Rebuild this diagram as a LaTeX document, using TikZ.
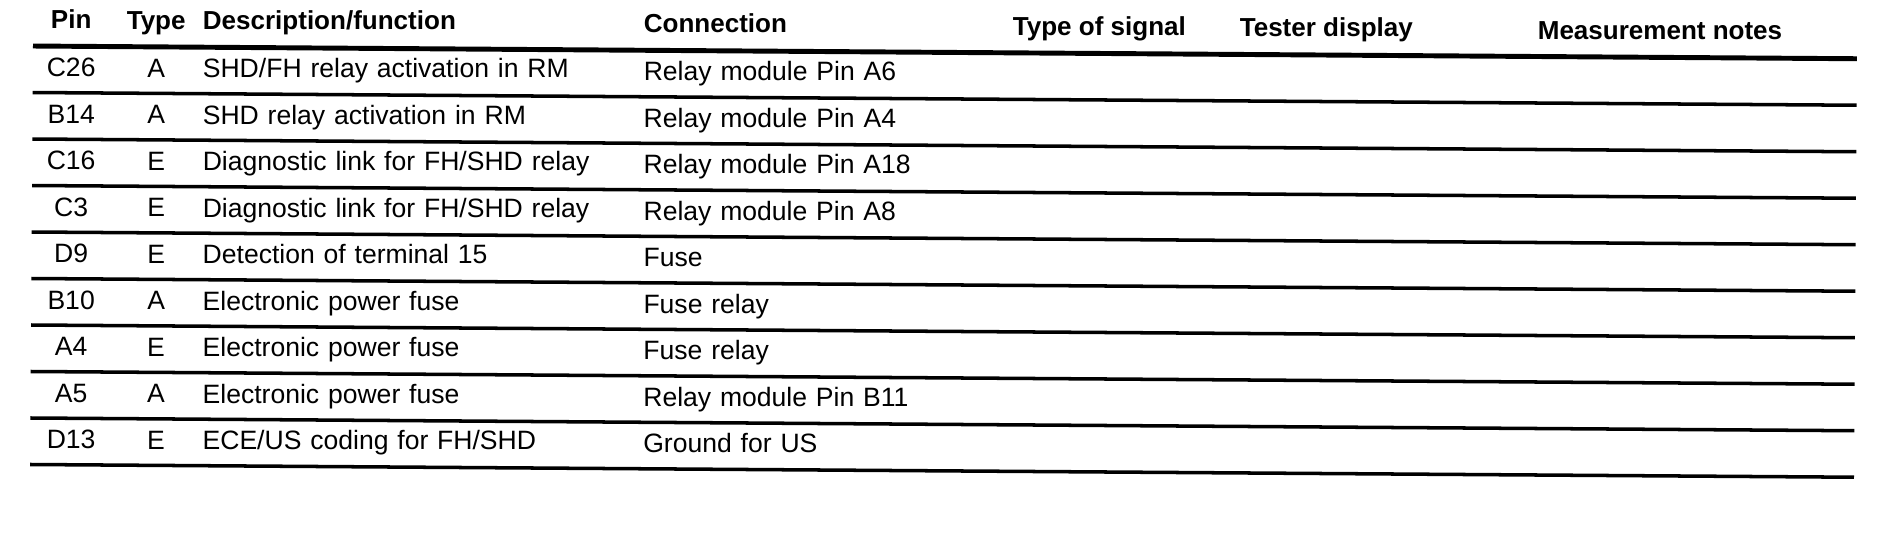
\documentclass[tikz,border=0pt]{standalone}
\usepackage{fontspec}
\setmainfont{Liberation Sans}
\usetikzlibrary{positioning}

\begin{document}
\begin{tikzpicture}[x=0.01cm, y=-0.01cm, node distance=0.465cm,
	cell/.style={inner sep=0pt, text height=5.4pt, text depth=0pt, font=\fontsize{7.55}{9}\selectfont},
	headcell/.style={cell, font=\fontsize{7.4}{9}\selectfont\bfseries},
	desccol/.style={text width=3.9cm, align=left},
	conncol/.style={text width=3.6cm, align=left},
	rule/.style={line width=1pt},
	headrule/.style={line width=1.4pt}]
			\useasboundingbox (0,0) rectangle (1882,544);
			
			% the scanned table sits slightly askew
			\begin{scope}[rotate around={-0.4:(33,46)}]
			% header
			\node (pinhead) [headcell] at (71,19) {Pin};
			\node (typehead) [headcell] at (156,19) {Type};
			\node (deschead) [headcell, desccol, anchor=west] at (202,19) {Description/function};
			\node (connhead) [headcell, conncol, anchor=west] at (643,19) {Connection};
			\node (signalhead) [headcell, anchor=west] at (1012,19) {Type of signal};
			\node (testerhead) [headcell, anchor=west] at (1239,19) {Tester display};
			\node (noteshead) [headcell, anchor=west] at (1537,19) {Measurement notes};
			
			% rows
			\node (pinC26) [cell, below of=pinhead, yshift=-0.015cm] {C26};
			\node (typeC26) [cell, below of=typehead, yshift=-0.015cm] {A};
			\node (descC26) [cell, desccol, below of=deschead, yshift=-0.015cm] {SHD/FH relay activation in RM};
			\node (connC26) [cell, conncol, below of=connhead, yshift=-0.015cm] {Relay module Pin A6};
			
			\node (pinB14) [cell, below of=pinC26] {B14};
			\node (typeB14) [cell, below of=typeC26] {A};
			\node (descB14) [cell, desccol, below of=descC26] {SHD relay activation in RM};
			\node (connB14) [cell, conncol, below of=connC26] {Relay module Pin A4};
			
			\node (pinC16) [cell, below of=pinB14] {C16};
			\node (typeC16) [cell, below of=typeB14] {E};
			\node (descC16) [cell, desccol, below of=descB14] {Diagnostic link for FH/SHD relay};
			\node (connC16) [cell, conncol, below of=connB14] {Relay module Pin A18};
			
			\node (pinC3) [cell, below of=pinC16] {C3};
			\node (typeC3) [cell, below of=typeC16] {E};
			\node (descC3) [cell, desccol, below of=descC16] {Diagnostic link for FH/SHD relay};
			\node (connC3) [cell, conncol, below of=connC16] {Relay module Pin A8};
			
			\node (pinD9) [cell, below of=pinC3] {D9};
			\node (typeD9) [cell, below of=typeC3] {E};
			\node (descD9) [cell, desccol, below of=descC3] {Detection of terminal 15};
			\node (connD9) [cell, conncol, below of=connC3] {Fuse};
			
			\node (pinB10) [cell, below of=pinD9] {B10};
			\node (typeB10) [cell, below of=typeD9] {A};
			\node (descB10) [cell, desccol, below of=descD9] {Electronic power fuse};
			\node (connB10) [cell, conncol, below of=connD9] {Fuse relay};
			
			\node (pinA4) [cell, below of=pinB10] {A4};
			\node (typeA4) [cell, below of=typeB10] {E};
			\node (descA4) [cell, desccol, below of=descB10] {Electronic power fuse};
			\node (connA4) [cell, conncol, below of=connB10] {Fuse relay};
			
			\node (pinA5) [cell, below of=pinA4] {A5};
			\node (typeA5) [cell, below of=typeA4] {A};
			\node (descA5) [cell, desccol, below of=descA4] {Electronic power fuse};
			\node (connA5) [cell, conncol, below of=connA4] {Relay module Pin B11};
			
			\node (pinD13) [cell, below of=pinA5] {D13};
			\node (typeD13) [cell, below of=typeA5] {E};
			\node (descD13) [cell, desccol, below of=descA5] {ECE/US coding for FH/SHD};
			\node (connD13) [cell, conncol, below of=connA5] {Ground for US};
			
			% rules
			\draw[headrule] (33,46) -- (1857,46);
			\draw[rule] (33,92.5) -- (1857,92.5)
			(33,139) -- (1857,139)
			(33,185.5) -- (1857,185.5)
			(33,232) -- (1857,232)
			(33,278.5) -- (1857,278.5)
			(33,325) -- (1857,325)
			(33,371.5) -- (1857,371.5)
			(33,418) -- (1857,418)
			(33,464.5) -- (1857,464.5);
			\end{scope}
		\end{tikzpicture}
\end{document}
